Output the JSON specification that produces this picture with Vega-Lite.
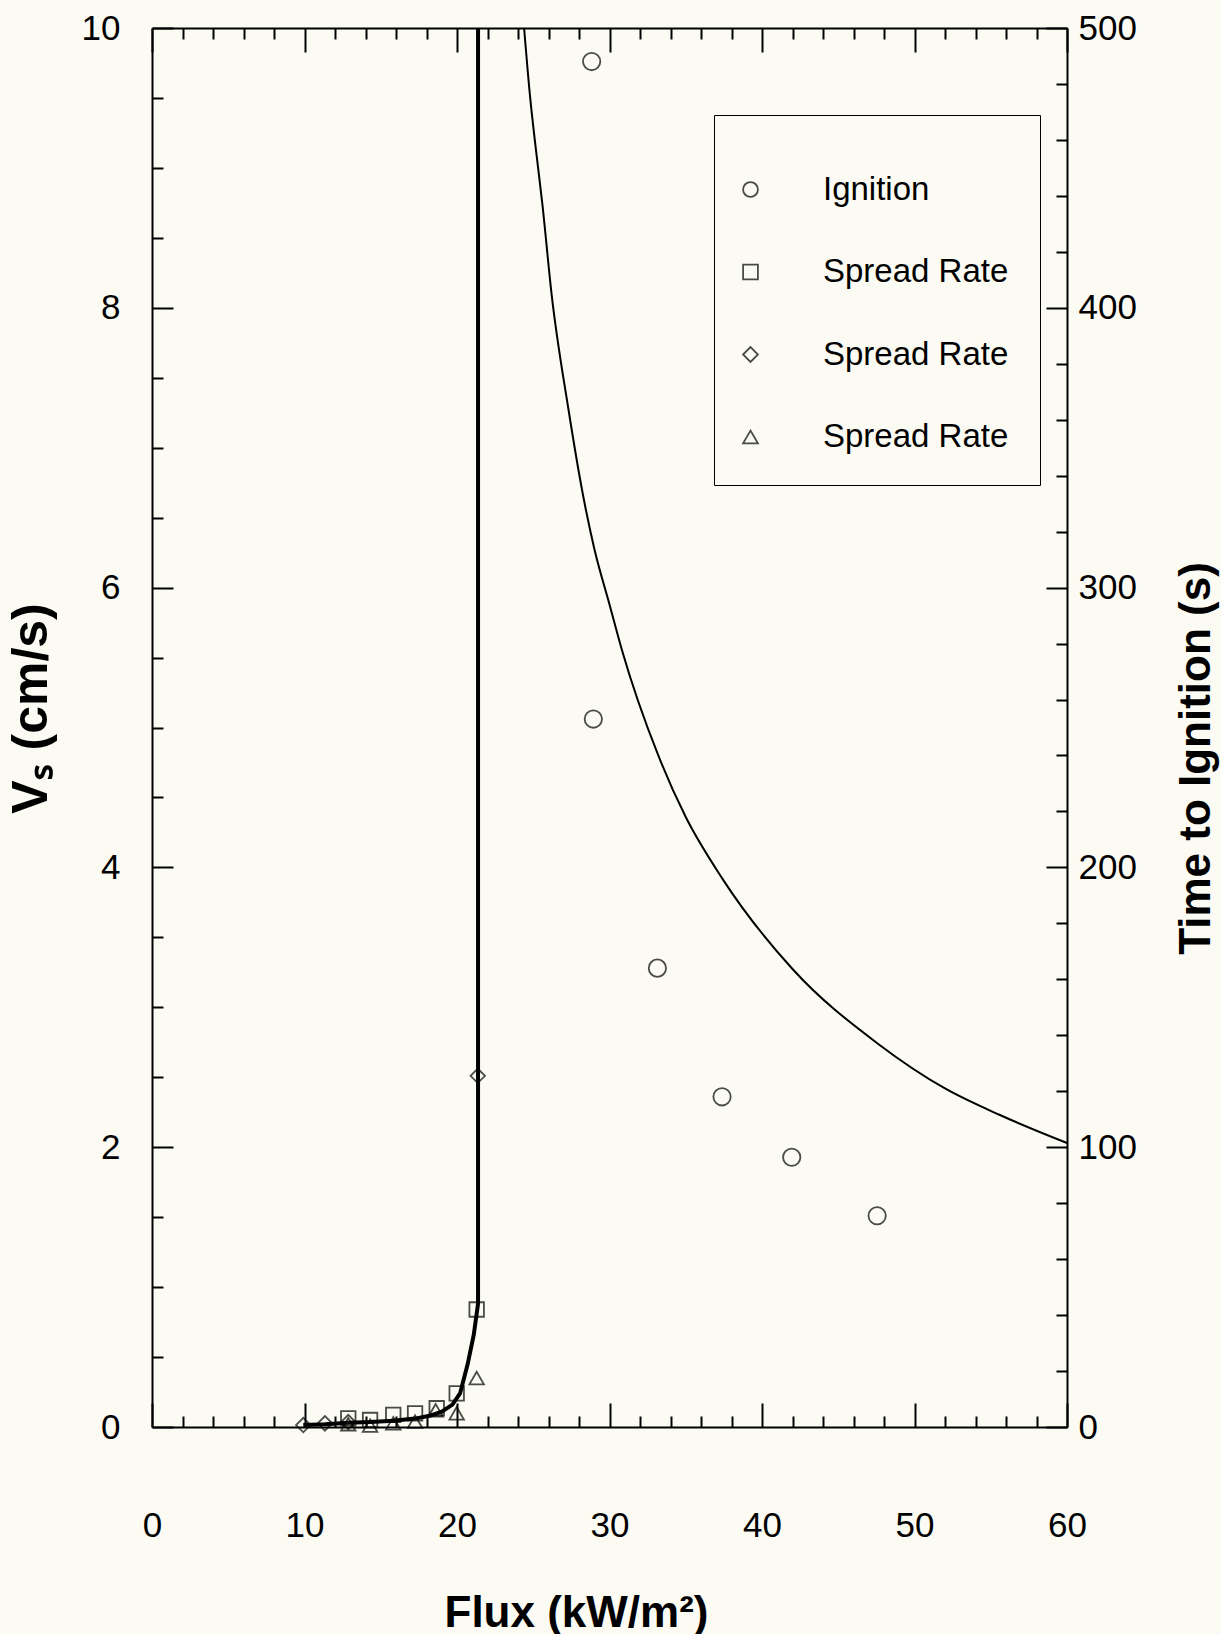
{
  "$schema": "https://vega.github.io/schema/vega-lite/v6.json",
  "width": 915,
  "height": 1399,
  "autosize": {"type": "none"},
  "padding": {"left": 152, "top": 28, "right": 154, "bottom": 207},
  "background": "#fbfbf3",
  "config": {
    "view": {"stroke": null},
    "axis": {
      "grid": false,
      "labelFont": "Liberation Sans",
      "labelFontSize": 35,
      "labelColor": "black",
      "titleFont": "Liberation Sans",
      "titleFontWeight": "bold",
      "titleFontSize": 44,
      "titleColor": "black",
      "domainColor": "black",
      "domainWidth": 2,
      "tickColor": "black",
      "tickWidth": 2,
      "labelFlush": false,
      "labelOverlap": false
    }
  },
  "datasets": {
    "curve": [
      {"flux": 24.4, "time": 500}, {"flux": 24.8, "time": 475}, {"flux": 25.1, "time": 460},
      {"flux": 25.6, "time": 437}, {"flux": 26.2, "time": 405}, {"flux": 27.3, "time": 364},
      {"flux": 28.3, "time": 332}, {"flux": 29.0, "time": 314}, {"flux": 30.0, "time": 294},
      {"flux": 30.8, "time": 278}, {"flux": 33.2, "time": 240}, {"flux": 35.0, "time": 218},
      {"flux": 37.4, "time": 196}, {"flux": 42.0, "time": 163.7}, {"flux": 47.6, "time": 137},
      {"flux": 52.0, "time": 121}, {"flux": 55.6, "time": 111.5}, {"flux": 60.0, "time": 101.5}
    ],
    "ign": [
      {"flux": 28.83, "time": 488, "series": "Ignition"},
      {"flux": 28.94, "time": 253, "series": "Ignition"},
      {"flux": 33.14, "time": 164, "series": "Ignition"},
      {"flux": 37.38, "time": 118, "series": "Ignition"},
      {"flux": 41.95, "time": 96.4, "series": "Ignition"},
      {"flux": 47.55, "time": 75.5, "series": "Ignition"}
    ],
    "spread": [
      {"flux": 12.87, "v": 0.062, "series": "SR1"},
      {"flux": 14.30, "v": 0.05, "series": "SR1"},
      {"flux": 15.82, "v": 0.086, "series": "SR1"},
      {"flux": 17.25, "v": 0.098, "series": "SR1"},
      {"flux": 18.67, "v": 0.134, "series": "SR1"},
      {"flux": 19.98, "v": 0.24, "series": "SR1"},
      {"flux": 21.29, "v": 0.84, "series": "SR1"},
      {"flux": 9.92, "v": 0.014, "series": "SR2"},
      {"flux": 11.34, "v": 0.026, "series": "SR2"},
      {"flux": 12.87, "v": 0.035, "series": "SR2"},
      {"flux": 21.36, "v": 2.51, "series": "SR2"},
      {"flux": 12.87, "v": 0.02, "series": "SR3"},
      {"flux": 14.30, "v": 0.01, "series": "SR3"},
      {"flux": 15.82, "v": 0.026, "series": "SR3"},
      {"flux": 17.25, "v": 0.038, "series": "SR3"},
      {"flux": 18.60, "v": 0.12, "series": "SR3"},
      {"flux": 19.98, "v": 0.098, "series": "SR3"},
      {"flux": 21.29, "v": 0.35, "series": "SR3"}
    ],
    "sline": [
      {"o": 1, "flux": 9.92, "v": 0.015}, {"o": 2, "flux": 11.34, "v": 0.02},
      {"o": 3, "flux": 12.87, "v": 0.03}, {"o": 4, "flux": 14.3, "v": 0.035},
      {"o": 5, "flux": 15.82, "v": 0.045}, {"o": 6, "flux": 17.25, "v": 0.06},
      {"o": 7, "flux": 18.2, "v": 0.08}, {"o": 8, "flux": 19.0, "v": 0.11},
      {"o": 9, "flux": 19.7, "v": 0.16}, {"o": 10, "flux": 20.2, "v": 0.24},
      {"o": 11, "flux": 20.7, "v": 0.45}, {"o": 12, "flux": 21.1, "v": 0.66},
      {"o": 13, "flux": 21.38, "v": 0.88}, {"o": 14, "flux": 21.38, "v": 10}
    ]
  },
  "layer": [
    {
      "data": {"name": "curve"},
      "mark": {"type": "line", "color": "black", "strokeWidth": 2, "interpolate": "monotone"},
      "encoding": {
        "x": {"field": "flux", "type": "quantitative", "scale": {"domain": [0, 60], "nice": false},
          "axis": {"orient": "bottom", "values": [0, 10, 20, 30, 40, 50, 60], "tickSize": -24, "labelPadding": 105,
            "title": "Flux (kW/m²)", "titlePadding": 48, "titleX": 424}},
        "y": {"field": "time", "type": "quantitative", "scale": {"domain": [0, 500], "nice": false},
          "axis": {"orient": "right", "values": [0, 100, 200, 300, 400, 500], "tickSize": -21, "labelPadding": 32,
            "title": "Time to Ignition (s)", "titleAngle": 270, "titlePadding": 82, "titleY": 730}}
      }
    },
    {
      "data": {"name": "ign"},
      "mark": {"type": "point", "filled": false, "color": "black", "strokeWidth": 1.8, "size": 300},
      "encoding": {
        "x": {"field": "flux", "type": "quantitative", "scale": {"domain": [0, 60], "nice": false},
          "axis": {"orient": "bottom", "values": [2,4,6,8,12,14,16,18,22,24,26,28,32,34,36,38,42,44,46,48,52,54,56,58],
            "tickSize": -11, "labels": false, "domain": false, "title": null}},
        "y": {"field": "time", "type": "quantitative", "scale": {"domain": [0, 500], "nice": false},
          "axis": {"orient": "right", "values": [20,40,60,80,120,140,160,180,220,240,260,280,320,340,360,380,420,440,460,480],
            "tickSize": -11, "labels": false, "domain": false, "title": null}},
        "shape": {"field": "series", "type": "nominal",
          "scale": {"domain": ["Ignition", "SR1", "SR2", "SR3"], "range": ["circle", "square", "diamond", "triangle-up"]},
          "legend": {"orient": "none", "legendX": 562, "legendY": 87, "title": " ", "titleFontSize": 27, "titlePadding": 0,
            "strokeColor": "black", "padding": 31, "fillColor": "#fbfbf3",
            "labelFont": "Liberation Sans", "labelFontSize": 33, "labelColor": "black", "labelLimit": 400,
            "symbolSize": 220, "symbolStrokeWidth": 1.8, "symbolStrokeColor": "black", "symbolFillColor": "transparent",
            "symbolOffset": -11, "labelOffset": 56, "rowPadding": 48.5,
            "labelExpr": "datum.label == 'Ignition' ? 'Ignition' : 'Spread Rate'",
            "encode": {"legend": {"update": {"strokeWidth": {"value": 2}}}}}}
      }
    },
    {
      "data": {"name": "sline"},
      "mark": {"type": "line", "color": "black", "strokeWidth": 4},
      "encoding": {
        "x": {"field": "flux", "type": "quantitative", "scale": {"domain": [0, 60], "nice": false},
          "axis": {"orient": "top", "values": [0, 10, 20, 30, 40, 50, 60], "tickSize": -24, "labels": false, "title": null}},
        "y": {"field": "v", "type": "quantitative", "scale": {"domain": [0, 10], "nice": false},
          "axis": {"orient": "left", "values": [0, 2, 4, 6, 8, 10], "tickSize": -21, "labelPadding": 53,
            "title": "Vₛ (cm/s)", "titleFontSize": 50, "titlePadding": 25, "titleY": 680}},
        "order": {"field": "o", "type": "quantitative"}
      }
    },
    {
      "data": {"name": "spread"},
      "mark": {"type": "point", "filled": false, "color": "black", "strokeWidth": 1.8, "size": 210},
      "encoding": {
        "x": {"field": "flux", "type": "quantitative", "scale": {"domain": [0, 60], "nice": false},
          "axis": {"orient": "top", "values": [2,4,6,8,12,14,16,18,22,24,26,28,32,34,36,38,42,44,46,48,52,54,56,58],
            "tickSize": -11, "labels": false, "domain": false, "title": null}},
        "y": {"field": "v", "type": "quantitative", "scale": {"domain": [0, 10], "nice": false},
          "axis": {"orient": "left", "values": [0.5,1,1.5,2.5,3,3.5,4.5,5,5.5,6.5,7,7.5,8.5,9,9.5],
            "tickSize": -11, "labels": false, "domain": false, "title": null}},
        "shape": {"field": "series", "type": "nominal",
          "scale": {"domain": ["Ignition", "SR1", "SR2", "SR3"], "range": ["circle", "square", "diamond", "triangle-up"]}}
      }
    }
  ],
  "resolve": {"scale": {"y": "independent"}, "axis": {"x": "independent", "y": "independent"}}
}
